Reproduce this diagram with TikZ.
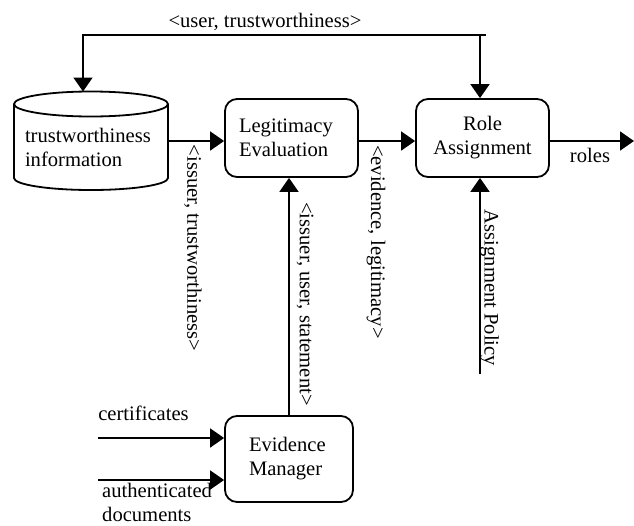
\documentclass[tikz,border=0pt]{standalone}
\usepackage{fontspec}
\setmainfont{Liberation Serif}
\usetikzlibrary{arrows.meta}
\begin{document}
\begin{tikzpicture}[x=1pt,y=-1pt,
  every node/.style={font=\fontsize{20.6}{24}\selectfont, inner sep=0pt},
  ln/.style={line width=1.8pt},
  arr/.style={ln, -{Triangle[length=14pt,width=19pt]}},
  box/.style={draw, line width=1.8pt, rounded corners=12pt},
  lbl/.style={rotate=-90}]
\useasboundingbox (0,0) rectangle (634,525);

% cylinder store
\node[minimum width=154pt, minimum height=74pt, text width=132pt, inner xsep=11pt, align=left] (ti) at (91,147) {trustworthiness\\information};
\coordinate (ctop) at (91,91.5);
\draw[ln] (14,104) -- (14,178) arc[start angle=180, end angle=0, x radius=77, y radius=12] -- (168,104);
\draw[ln] (91,104) ellipse [x radius=77, y radius=12.5];

% process boxes
\node[box, minimum width=133pt, minimum height=78pt, text width=105pt, inner xsep=14pt, align=left] (le) at (291.5,138) {Legitimacy\\Evaluation};
\node[box, minimum width=133pt, minimum height=78pt, align=center] (ra) at (482.5,138) {Role\\Assignment};
\node[box, minimum width=128pt, minimum height=86pt, text width=80pt, inner xsep=24pt, align=left] (em) at (289,459) {Evidence\\Manager};

% helper coordinates
\coordinate (h1) at (0,141);
\coordinate (fbr) at (486,35);
\coordinate (fbl) at (83,35);
\coordinate (fbm) at (480,35);
\coordinate (rolesend) at (634,141);
\coordinate (apb) at (480,374);
\coordinate (c1) at (98,438);
\coordinate (c2) at (98,480);

% connectors
\draw[arr] (fbr) -- (fbl) -- (fbl |- ctop);
\draw[arr] (fbm) -- (fbm |- ra.north);
\draw[arr] (ti.east |- h1) -- (le.west |- h1);
\draw[arr] (le.east |- h1) -- (ra.west |- h1);
\draw[arr] (ra.east |- h1) -- (rolesend);
\draw[arr] (em.north) -- (em.north |- le.south);
\draw[arr] (apb) -- (apb |- ra.south);
\draw[arr] (c1) -- (c1 -| em.west);
\draw[arr] (c2) -- (c2 -| em.west);

% labels
\node (tut) at (265,22) {<user, trustworthiness>};
\node[lbl] (tit) at (193,248) {<issuer, trustworthiness>};
\node[lbl] (tel) at (376,242) {<evidence, legitimacy>};
\node[lbl] (tius) at (305,304) {<issuer, user, statement>};
\node[lbl] (tap) at (489.5,288) {Assignment Policy};
\node (troles) at (590,155) {roles};
\node (tcert) at (143.5,413) {certificates};
\node[anchor=north west, align=left] (tdoc) at (102,483) {authenticated\\documents};
\end{tikzpicture}
\end{document}
